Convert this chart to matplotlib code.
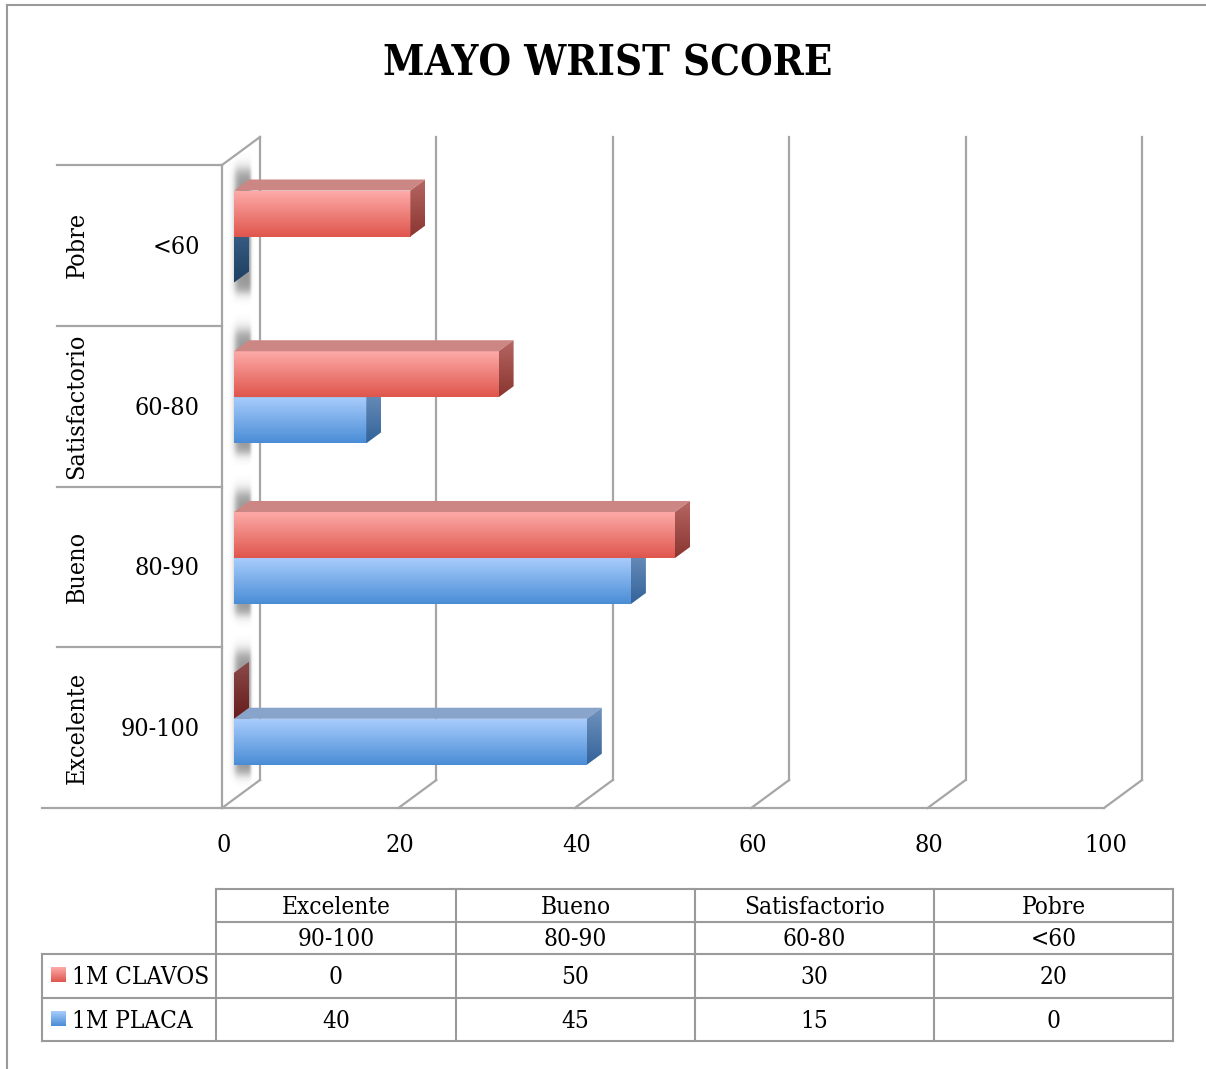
import numpy as np
import matplotlib
matplotlib.use('Agg')
import matplotlib.pyplot as plt
from matplotlib.patches import Polygon

categories = ['Excelente', 'Bueno', 'Satisfactorio', 'Pobre']
ranges = ['90-100', '80-90', '60-80', '<60']
clavos = [0, 50, 30, 20]
placa = [40, 45, 15, 0]
xticks = [0, 20, 40, 60, 80, 100]
series_names = ['1M CLAVOS', '1M PLACA']

W, H = 1206, 1069
fig = plt.figure(figsize=(W / 100, H / 100), dpi=100)
fig.patch.set_facecolor('white')

# pixel overlay for frame, title and table
pa = fig.add_axes([0, 0, 1, 1])
pa.set_xlim(0, W)
pa.set_ylim(H, 0)
pa.axis('off')

# data axes: x = value, y = category index
ax = fig.add_axes([0, 0, 1, 1])
ax.axis('off')
ax.patch.set_alpha(0)
sx, x0px = 8.82, 222
sy, y0px = 160.75, 808

DX, DY = 38 / sx, 28 / sy       # depth of the 3d box
f0, bd = 12 / 38, 15 / 38        # bar front offset and bar depth
bh = 46 / sy                     # bar thickness
gcol = '#a6a6a6'
fs = 18
fst = 17.5
tk = dict(family='DejaVu Serif', stretch='condensed')

def grad(c1, c2, n=64):
    a = np.array(matplotlib.colors.to_rgb(c1))
    b = np.array(matplotlib.colors.to_rgb(c2))
    t = np.linspace(0, 1, n)[:, None]
    return (a + (b - a) * t)[:, None, :]

# grid / walls
for v in xticks:
    ax.plot([v + DX, v + DX], [DY, 4 + DY], color=gcol, lw=1.6, zorder=1)
    ax.plot([v, v + DX], [0, DY], color=gcol, lw=1.6, zorder=1)
ax.plot([0, 0], [0, 4], color=gcol, lw=1.6, zorder=1)
ax.plot([0, DX], [4, 4 + DY], color=gcol, lw=1.6, zorder=1)
ax.plot([(42 - x0px) / sx, 100], [0, 0], color=gcol, lw=1.6, zorder=1)
for k in range(1, 5):
    ax.plot([(57 - x0px) / sx, 0], [k, k], color=gcol, lw=1.6, zorder=1)

styles = {
    'red': dict(front=('#fdaaa8', '#df564d'), top='#cc8784', side=('#b66764', '#8a3530'),
                zero=('#8c4a4a', '#661c1c')),
    'blue': dict(front=('#a8ccfc', '#4a8dd6'), top='#88a4ca', side=('#7093bd', '#33639a'),
                 zero=('#3d6189', '#1d3f63')),
}

def draw_bar(val, ybot, st, zo):
    ytop = ybot + bh
    xs = f0 * DX
    xe = xs + val
    ox, oy = bd * DX, bd * DY
    if val > 0:
        ax.imshow(grad(*st['front']), extent=[xs, xe, ybot, ytop], aspect='auto',
                  origin='upper', interpolation='bilinear', zorder=zo)
        ax.add_patch(Polygon([(xs, ytop), (xe, ytop), (xe + ox, ytop + oy), (xs + ox, ytop + oy)],
                             closed=True, facecolor=st['top'], edgecolor='none', zorder=zo))
        scol = st['side']
    else:
        scol = st['zero']
    side = Polygon([(xe, ybot), (xe, ytop), (xe + ox, ytop + oy), (xe + ox, ybot + oy)],
                   closed=True, facecolor='none', edgecolor='none', zorder=zo)
    ax.add_patch(side)
    im = ax.imshow(grad(*scol), extent=[xe, xe + ox, ybot, ytop + oy], aspect='auto',
                   origin='upper', interpolation='bilinear', zorder=zo)
    im.set_clip_path(side)

# soft shadow on the left wall (blurred strip behind each bar pair)
def shadow(ylo, yhi):
    nx, ny = 60, 160
    xp = np.linspace(224, 258, nx)
    ypx = np.linspace(0, 1, ny) * (yhi - ylo) * sy
    px = 0.5 * (np.tanh((xp - 235) / 3.5) - np.tanh((xp - 251) / 1.5))
    L = ypx[-1]
    py = 0.5 * (np.tanh((ypx - 16) / 8.0) - np.tanh((ypx - (L - 12)) / 6.0))
    alpha = 0.7 * py[:, None] * px[None, :]
    img = np.zeros((ny, nx, 4))
    img[..., :3] = 0.42
    img[..., 3] = np.clip(alpha, 0, 1)
    ax.imshow(img, extent=[(224 - x0px) / sx, (258 - x0px) / sx, ylo, yhi], aspect='auto',
              origin='upper', interpolation='bilinear', zorder=2)

for i in range(len(categories)):
    mid = i + 0.5 + f0 * DY
    shadow(mid - bh - 0.14, mid + bh + 0.23)
    draw_bar(placa[i], mid - bh, styles['blue'], 3 + 2 * i)
    draw_bar(clavos[i], mid, styles['red'], 4 + 2 * i)

# axis labels
for v in xticks:
    ax.text(v + 0.2, (y0px - 846) / sy, str(v), ha='center', va='center', fontsize=fs, **tk)
for i in range(len(categories)):
    ax.text((200 - x0px) / sx, i + 0.5 - 2 / sy, ranges[i], ha='right', va='center',
            fontsize=fs, **tk)
    ax.text((77 - x0px) / sx, i + 0.5, categories[i], rotation=90, ha='center', va='center',
            fontsize=fs, **tk)

ax.set_xlim(-x0px / sx, (W - x0px) / sx)
ax.set_ylim((y0px - H) / sy, y0px / sy)

# frame and title
pa.plot([7, 7], [5, H], color='#9a9a9a', lw=1.5)
pa.plot([7, W], [5, 5], color='#9a9a9a', lw=1.5)
pa.text(608, 64, 'MAYO WRIST SCORE', ha='center', va='center', fontsize=30,
        fontweight='bold', **tk)

# data table
cx = [216, 456, 695, 934, 1173]
ry = [889, 922, 954, 998, 1041]
tcol = '#9a9a9a'
for y in ry[:2]:
    pa.plot([cx[0], cx[-1]], [y, y], color=tcol, lw=1.5)
for y in ry[2:]:
    pa.plot([42, cx[-1]], [y, y], color=tcol, lw=1.5)
for x in cx:
    pa.plot([x, x], [ry[0], ry[-1]], color=tcol, lw=1.5)
pa.plot([42, 42], [ry[2], ry[-1]], color=tcol, lw=1.5)

for j in range(len(categories)):
    xc = (cx[j] + cx[j + 1]) / 2
    pa.text(xc, 908, categories[j], ha='center', va='center', fontsize=fst, **tk)
    pa.text(xc, 939.5, ranges[j], ha='center', va='center', fontsize=fst, **tk)
    pa.text(xc, 978, str(clavos[j]), ha='center', va='center', fontsize=fst, **tk)
    pa.text(xc, 1022, str(placa[j]), ha='center', va='center', fontsize=fst, **tk)

sw = [('red', 975), ('blue', 1019)]
for (key, yc), name in zip(sw, series_names):
    pa.imshow(grad(*styles[key]['front']), extent=[51, 66, yc + 7.5, yc - 7.5], aspect='auto',
              origin='upper', interpolation='bilinear')
    pa.text(72, yc + 2, name, ha='left', va='center', fontsize=fst, **tk)
pa.set_xlim(0, W)
pa.set_ylim(H, 0)

fig.savefig('out.png', dpi=100, facecolor='white')
